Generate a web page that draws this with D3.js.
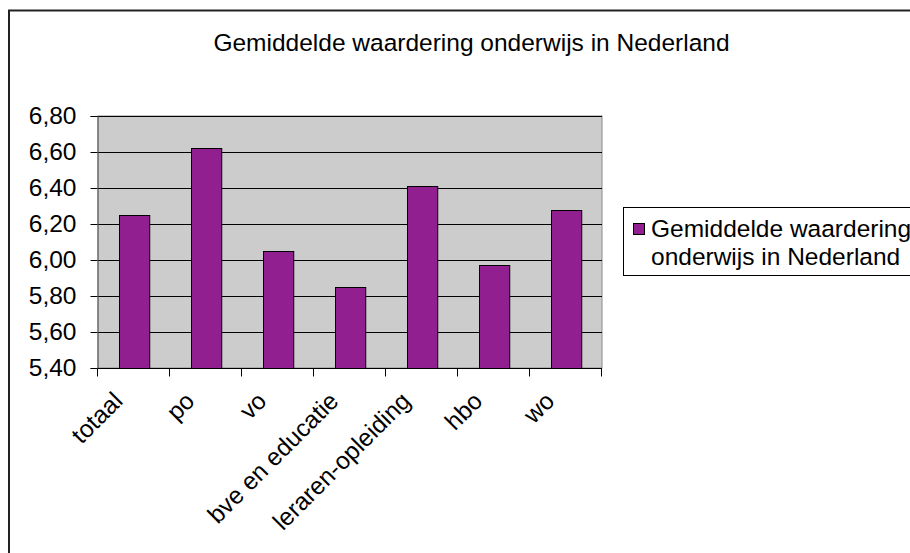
<!DOCTYPE html>
<html>
<head>
<meta charset="utf-8">
<script src="https://cdn.jsdelivr.net/npm/d3@7"></script>
<style>
  html, body { margin: 0; padding: 0; background: #fff; }
  svg { display: block; font-family: "Liberation Sans", Arial, sans-serif; }
</style>
</head>
<body>
<div id="chart"></div>
<script>
// waarderingen per onderwijssector
const categories = ["totaal", "po", "vo", "bve en educatie", "leraren-opleiding", "hbo", "wo"];
const values = [6.25, 6.62, 6.05, 5.85, 6.41, 5.97, 6.28];
const yTicks = [5.4, 5.6, 5.8, 6.0, 6.2, 6.4, 6.6, 6.8];
const title = "Gemiddelde waardering onderwijs in Nederland";
const legendLines = ["Gemiddelde waardering", "onderwijs in Nederland"];

(function () {
  const W = 910, H = 553;
  const plot = { left: 98, right: 602, top: 116, bottom: 368 };
  const purple = "#921f8f";
  const fs = "24.5px";

  const svg = d3.select("#chart").append("svg")
    .attr("width", W)
    .attr("height", H);

  // chart frame (only top/left visible in the picture)
  svg.append("rect")
    .attr("x", 9).attr("y", 10.5)
    .attr("width", W + 20).attr("height", H + 20)
    .attr("fill", "#fff")
    .attr("stroke", "#222")
    .attr("stroke-width", 2);

  svg.append("text")
    .attr("x", 471.5)
    .attr("y", 51)
    .attr("text-anchor", "middle")
    .style("font-size", fs)
    .style("fill", "#000")
    .text(title);

  const x = d3.scaleBand()
    .domain(categories)
    .range([plot.left, plot.right])
    .paddingInner(0.58)
    .paddingOuter(0.29);

  const y = d3.scaleLinear()
    .domain([d3.min(yTicks), d3.max(yTicks)])
    .range([plot.bottom, plot.top]);

  // plot background
  svg.append("rect")
    .attr("x", plot.left).attr("y", plot.top)
    .attr("width", plot.right - plot.left)
    .attr("height", plot.bottom - plot.top)
    .attr("fill", "#cccccc")
    .attr("stroke", "#8a8a8a")
    .attr("stroke-width", 1);

  // gridlines
  svg.append("g")
    .selectAll("line")
    .data(yTicks.slice(1))
    .join("line")
    .attr("x1", plot.left).attr("x2", plot.right)
    .attr("y1", d => Math.round(y(d)) + 0.5)
    .attr("y2", d => Math.round(y(d)) + 0.5)
    .attr("stroke", "#000")
    .attr("stroke-width", 1);

  // bars
  svg.append("g")
    .selectAll("rect")
    .data(values)
    .join("rect")
    .attr("x", (d, i) => Math.round(x(categories[i])) + 0.5)
    .attr("y", d => Math.round(y(d)) + 0.5)
    .attr("width", x.bandwidth())
    .attr("height", d => y(yTicks[0]) - Math.round(y(d)))
    .attr("fill", purple)
    .attr("stroke", "#000")
    .attr("stroke-width", 1);

  // y axis
  const yAxis = svg.append("g")
    .attr("transform", `translate(${plot.left - 0.5},0)`)
    .call(d3.axisLeft(y)
      .tickValues(yTicks)
      .tickSize(7)
      .tickPadding(14)
      .tickFormat(d => d3.format(".2f")(d).replace(".", ",")));
  yAxis.select(".domain").attr("stroke", "#555");
  yAxis.selectAll(".tick line").attr("stroke", "#000");
  yAxis.selectAll(".tick text")
    .attr("fill", "#000")
    .style("font-size", fs)
    .style("font-family", "Liberation Sans, Arial, sans-serif");

  // x axis: ticks on the category boundaries
  const xAxis = svg.append("g")
    .attr("transform", `translate(0,${plot.bottom + 0.5})`);
  xAxis.append("line")
    .attr("x1", plot.left).attr("x2", plot.right)
    .attr("stroke", "#000");
  const step = x.step();
  xAxis.selectAll(".xt")
    .data(d3.range(categories.length + 1))
    .join("line")
    .attr("class", "xt")
    .attr("x1", i => Math.round(plot.left + i * step) - 0.5)
    .attr("x2", i => Math.round(plot.left + i * step) - 0.5)
    .attr("y1", 0).attr("y2", 8)
    .attr("stroke", "#000");

  xAxis.selectAll(".xl")
    .data(categories)
    .join("text")
    .attr("class", "xl")
    .attr("text-anchor", "end")
    .attr("transform", d => `translate(${x(d) + x.bandwidth() / 2 - 10},${34}) rotate(-45)`)
    .style("font-size", fs)
    .style("fill", "#000")
    .text(d => d);

  // legend
  const lg = svg.append("g");
  lg.append("rect")
    .attr("x", 623.5).attr("y", 207.5)
    .attr("width", 320).attr("height", 68)
    .attr("fill", "#fff")
    .attr("stroke", "#000");
  lg.append("rect")
    .attr("x", 633.5).attr("y", 223.5)
    .attr("width", 11).attr("height", 11)
    .attr("fill", purple)
    .attr("stroke", "#000");
  lg.selectAll(".lt")
    .data(legendLines)
    .join("text")
    .attr("class", "lt")
    .attr("x", 651)
    .attr("y", (d, i) => 237 + i * 28)
    .style("font-size", fs)
    .style("fill", "#000")
    .text(d => d);
})();
</script>
</body>
</html>
